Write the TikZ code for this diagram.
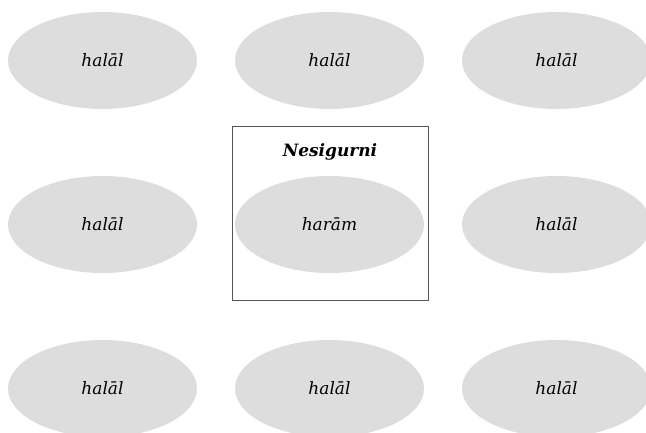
\documentclass[tikz,border=0pt]{standalone}
\usepackage{fontspec}
\usetikzlibrary{shapes.geometric}
\setmainfont{DejaVu Serif}
\begin{document}
\begin{tikzpicture}[x=1pt,y=-1pt,
  leaf/.style={ellipse,fill=ell,minimum width=189pt,minimum height=97pt,inner sep=0pt,font=\fontsize{17}{20}\selectfont\itshape},
  frame/.style={draw=framec,line width=0.8pt},
  ttl/.style={font=\fontsize{17}{20}\selectfont\bfseries\itshape,inner sep=0pt}]
\definecolor{ell}{HTML}{DDDDDD}
\definecolor{framec}{HTML}{555555}
\useasboundingbox (0,0) rectangle (646,433);
\node[frame,minimum width=196pt,minimum height=174pt,inner sep=0pt] (box) at (330,213) {};
\node[ttl] (t) at (330,152) {Nesigurni};
\node[leaf] (a1) at (102.5,60.5) {halāl};
\node[leaf] (a2) at (329.5,60.5) {halāl};
\node[leaf] (a3) at (556.5,60.5) {halāl};
\node[leaf] (b1) at (102.5,224.5) {halāl};
\node[leaf] (b2) at (329.5,224.5) {harām};
\node[leaf] (b3) at (556.5,224.5) {halāl};
\node[leaf] (c1) at (102.5,388.5) {halāl};
\node[leaf] (c2) at (329.5,388.5) {halāl};
\node[leaf] (c3) at (556.5,388.5) {halāl};
\end{tikzpicture}
\end{document}
